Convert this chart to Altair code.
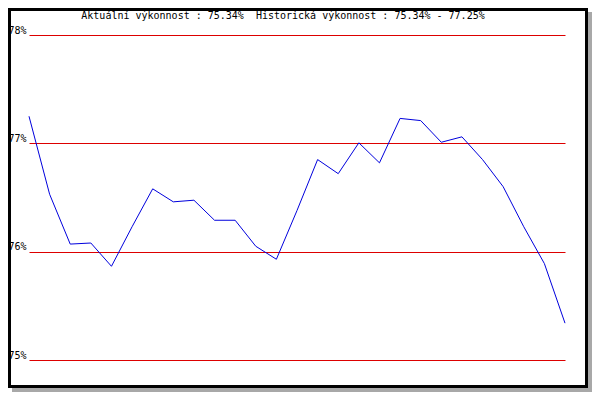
import altair as alt
import pandas as pd

# data
idx = list(range(27))
values = [77.25, 76.53, 76.07, 76.08, 75.865, 76.23, 76.58, 76.46, 76.475,
          76.29, 76.29, 76.05, 75.93, 76.38, 76.85, 76.72, 77.005, 76.82,
          77.23, 77.21, 77.01, 77.06, 76.85, 76.60, 76.23, 75.89, 75.34]
y_ticks = [75, 76, 77, 78]
title_text = "Aktuální výkonnost : 75.34%\u00a0 Historická výkonnost : 75.34% - 77.25%"

df = pd.DataFrame({"i": idx, "v": values})
one = pd.DataFrame({"a": [0]})
tdf = pd.DataFrame({"t": [title_text]})

shadow_r = alt.Chart(one).mark_rect(color="#a8a8a8").encode(
    x=alt.value(559), x2=alt.value(563), y=alt.value(-23), y2=alt.value(357))
shadow_b = alt.Chart(one).mark_rect(color="#a8a8a8").encode(
    x=alt.value(-17), x2=alt.value(563), y=alt.value(353), y2=alt.value(357))
frame = alt.Chart(one).mark_rect(fill="transparent", stroke="black", strokeWidth=3).encode(
    x=alt.value(-19.5), x2=alt.value(557.5), y=alt.value(-25.5), y2=alt.value(351.5))

title = alt.Chart(tdf).mark_text(font="DejaVu Sans Mono", fontSize=10, color="black",
                                 align="center", baseline="alphabetic").encode(
    text="t:N", x=alt.value(254), y=alt.value(-16))

line = alt.Chart(df).mark_line(color="#0000dd", strokeWidth=1).encode(
    x=alt.X("i:Q", scale=alt.Scale(domain=[0, 26], nice=False, zero=False), axis=None),
    y=alt.Y("v:Q",
            scale=alt.Scale(domain=[75, 78], nice=False, zero=False),
            axis=alt.Axis(values=y_ticks, grid=True, gridColor="#dd0000", gridOpacity=1,
                          gridWidth=1, domain=False, ticks=False,
                          labelExpr="datum.value + '%'", labelFont="DejaVu Sans Mono",
                          labelFontSize=10, labelColor="black", labelBaseline="alphabetic",
                          labelOffset=-2, labelPadding=3, title=None)),
)

chart = alt.layer(shadow_r, shadow_b, frame, title, line).properties(
    width=536, height=325,
    padding={"left": 21, "top": 27, "right": 27, "bottom": 32},
    autosize=alt.AutoSizeParams(type="none"),
).configure_view(stroke=None)

chart.save("out.html", embed_options={"renderer": "svg", "actions": False})
